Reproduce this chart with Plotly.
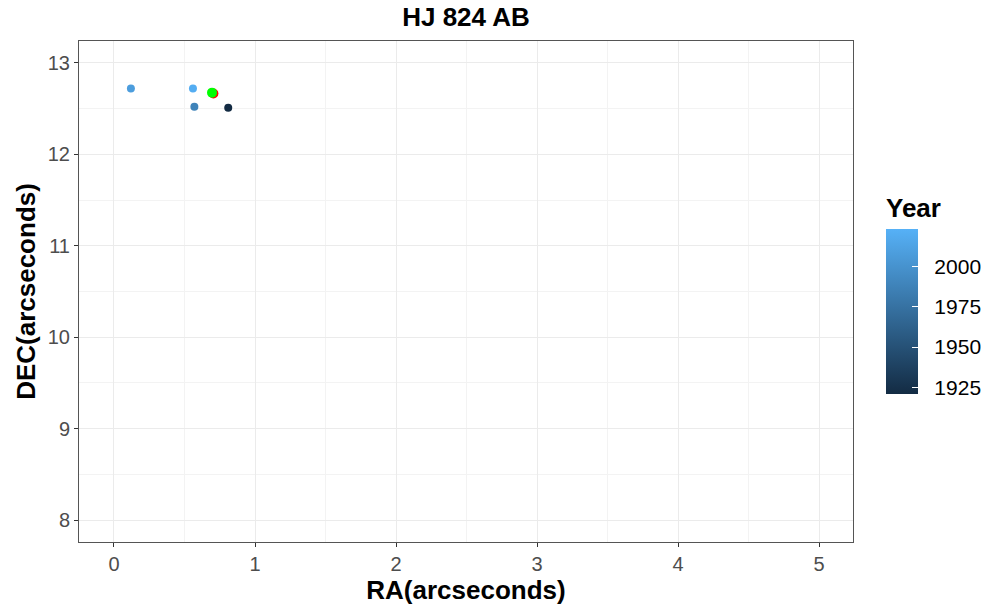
import plotly.graph_objects as go

# Observations
ra = [0.12, 0.56, 0.57, 0.81]
dec = [12.72, 12.72, 12.52, 12.51]
year = [2008, 2020, 1988, 1921]

# Highlight points
red_ra = [0.705]
red_dec = [12.665]
green_ra = [0.695]
green_dec = [12.675]

x_ticks = [0, 1, 2, 3, 4, 5]
y_ticks = [8, 9, 10, 11, 12, 13]
cb_ticks = [1925, 1950, 1975, 2000]
cb_labels = ["\u00a0\u00a0" + str(t) for t in cb_ticks]

W, H = 989, 611
ml, mr, mt, mb = 79, 136, 41, 69
plot_h = H - mt - mb
plot_w = W - ml - mr
FONT = "Liberation Sans, Arial, Helvetica"

# colourbar block (title + bar) in page pixels
cb_top, cb_bottom = 194, 394

fig = go.Figure()
fig.add_trace(go.Scatter(
    x=ra, y=dec, mode="markers",
    marker=dict(
        size=8, color=year, cmin=1921, cmax=2023,
        colorscale=[[0, "#132B43"], [1, "#56B1F7"]],
        showscale=True,
        colorbar=dict(
            title=dict(text="<b>Year</b>", side="top", font=dict(size=26, color="black", family=FONT)),
            tickvals=cb_ticks, ticktext=cb_labels,
            ticks="inside", tickcolor="white", ticklen=6, tickwidth=1,
            tickfont=dict(size=21, color="black", family=FONT),
            thickness=32, thicknessmode="pixels",
            len=cb_bottom - cb_top, lenmode="pixels",
            x=(886 - ml) / plot_w, xanchor="left",
            y=(H - mb - (cb_top + cb_bottom) / 2) / plot_h, yanchor="middle",
            outlinewidth=0, xpad=0, ypad=0,
        ),
    ),
    showlegend=False, hoverinfo="x+y",
))
fig.add_trace(go.Scatter(x=red_ra, y=red_dec, mode="markers",
                         marker=dict(size=10, color="red"), showlegend=False))
fig.add_trace(go.Scatter(x=green_ra, y=green_dec, mode="markers",
                         marker=dict(size=10, color="#00FF00"), showlegend=False))

axis_common = dict(
    showgrid=True, gridcolor="#EBEBEB", gridwidth=1,
    minor=dict(showgrid=True, gridcolor="#F3F3F3", gridwidth=0.6),
    showline=True, mirror=True, linecolor="#555555", linewidth=1,
    ticks="outside", tickcolor="#333333", ticklen=4,
    tickfont=dict(size=20, color="#4D4D4D", family=FONT),
    zeroline=False, automargin=False,
)

fig.update_xaxes(range=[-0.248, 5.24], tickvals=x_ticks,
                 minor_dtick=0.5, minor_tick0=0.5,
                 title=dict(text="<b>RA(arcseconds)</b>", font=dict(size=26, color="black", family=FONT), standoff=4),
                 **axis_common)
fig.update_yaxes(range=[7.76, 13.24], tickvals=y_ticks,
                 minor_dtick=0.5, minor_tick0=0.5,
                 title=dict(text="<b>DEC(arcseconds)</b>", font=dict(size=26, color="black", family=FONT), standoff=4),
                 **axis_common)

fig.update_layout(
    width=W, height=H,
    margin=dict(l=ml, r=mr, t=mt, b=mb, autoexpand=False),
    paper_bgcolor="white", plot_bgcolor="white",
    title=dict(text="<b>HJ 824 AB</b>", x=(ml + plot_w / 2) / W, xanchor="center",
               y=1 - 17 / H, yanchor="middle",
               font=dict(size=26, color="black", family=FONT)),
)

fig.write_html("out.html",
               config={"displayModeBar": False},
               post_script="document.body.style.margin='0';document.body.style.overflow='hidden';")
